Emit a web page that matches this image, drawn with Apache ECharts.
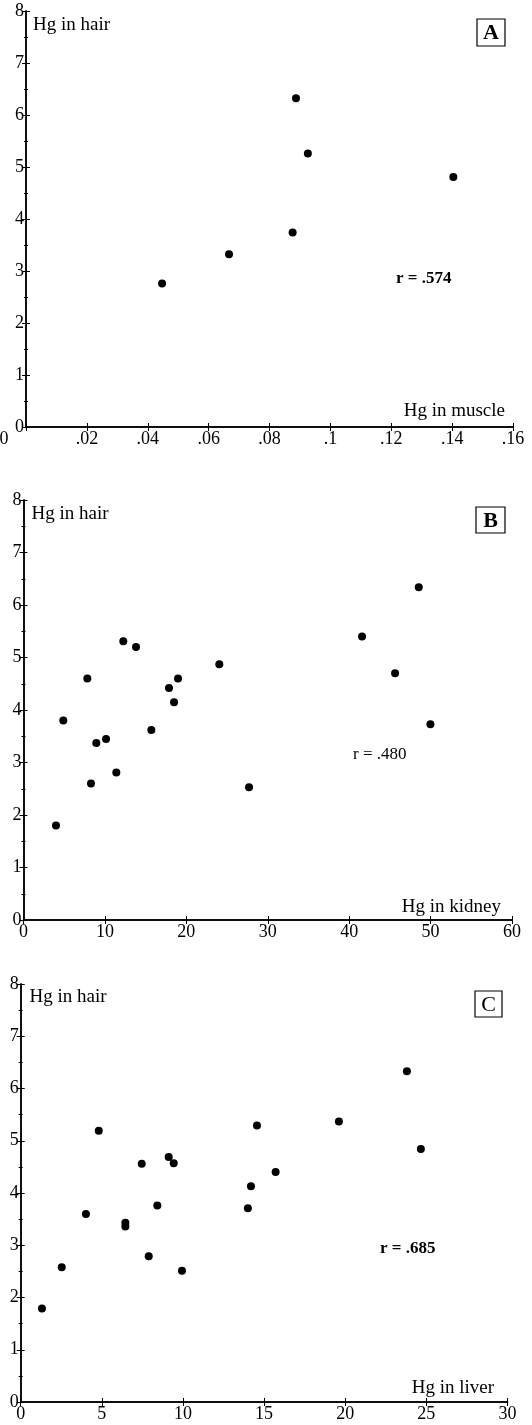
<!DOCTYPE html>
<html>
<head>
<meta charset="utf-8">
<script src="https://cdn.jsdelivr.net/npm/echarts@6/dist/echarts.min.js"></script>
<style>
html,body{margin:0;padding:0;background:#fff;}
#c{width:532px;height:1425px;}
</style>
</head>
<body>
<div id="c"></div>
<script>
// Panel A: Hg in muscle vs Hg in hair
const muscleHg = [0.0887, 0.0926, 0.1404, 0.0876, 0.0667, 0.0447];
const hairA    = [6.32,   5.26,   4.81,   3.74,   3.32,   2.76];
// Panel B: Hg in kidney vs Hg in hair
const kidneyHg = [48.55, 12.26, 13.82, 41.58, 24.05, 7.84, 18.98, 17.87, 45.64, 18.49, 4.89, 49.98, 15.70, 10.14, 8.94, 11.40, 8.29, 27.70, 3.99];
const hairB    = [6.34,  5.31,  5.20,  5.40,  4.87,  4.60, 4.60,  4.42,  4.70,  4.15,  3.80, 3.73,  3.62,  3.45,  3.37, 2.81,  2.60, 2.53,  1.80];
// Panel C: Hg in liver vs Hg in hair
const liverHg = [23.80, 19.61, 14.56, 4.81, 24.66, 7.46, 9.12, 9.43, 15.71, 14.19, 8.42, 14.00, 4.02, 6.45, 6.45, 7.89, 9.94, 2.53, 1.31];
const hairC   = [6.33,  5.37,  5.29,  5.19, 4.84,  4.56, 4.69, 4.57, 4.40,  4.13,  3.76, 3.71,  3.60, 3.43, 3.36, 2.79, 2.51, 2.58, 1.79];

const xTicksA = [0, 0.02, 0.04, 0.06, 0.08, 0.1, 0.12, 0.14, 0.16];
const xTicksB = [0, 10, 20, 30, 40, 50, 60];
const xTicksC = [0, 5, 10, 15, 20, 25, 30];
const yTicks = [0, 1, 2, 3, 4, 5, 6, 7, 8];

const panelLetters = ['A', 'B', 'C'];
const xNames = ['Hg in muscle', 'Hg in kidney', 'Hg in liver'];
const yName = 'Hg in hair';
const rTexts = ['r = .574', 'r = .480', 'r = .685'];

const FONT = '"Liberation Serif", "DejaVu Serif", serif';
const chart = echarts.init(document.getElementById('c'), null, {renderer: 'canvas'});

const grids = [
  {left: 26, top: 11, width: 487, height: 416},
  {left: 23.5, top: 500, width: 488.5, height: 420},
  {left: 20.7, top: 984, width: 486.8, height: 418}
];

const xDefs = [
  {min: xTicksA[0], max: xTicksA[xTicksA.length - 1], interval: xTicksA[1] - xTicksA[0],
   fmt: v => { if (Math.abs(v) < 1e-9) return '{s|0}'; return String(+v.toFixed(2)).replace(/^0/, ''); }},
  {min: xTicksB[0], max: xTicksB[xTicksB.length - 1], interval: xTicksB[1] - xTicksB[0], fmt: v => String(v)},
  {min: xTicksC[0], max: xTicksC[xTicksC.length - 1], interval: xTicksC[1] - xTicksC[0], fmt: v => String(v)}
];

const axisLine = {show: true, lineStyle: {color: '#000', width: 1.5}};
const tick = {show: true, inside: true, length: 4, lineStyle: {color: '#000', width: 1}};
const minor = {show: true, splitNumber: 2, length: 2, lineStyle: {color: '#000', width: 1}};
const LBL = 18;

const xAxis = [], yAxis = [], series = [];
const xs = [muscleHg, kidneyHg, liverHg];
const ys = [hairA, hairB, hairC];

for (let i = 0; i < 3; i++) {
  const d = xDefs[i];
  xAxis.push({
    type: 'value', gridIndex: i, position: 'bottom', min: d.min, max: d.max, interval: d.interval,
    axisLine, axisTick: tick, minorTick: {show: false}, splitLine: {show: false},
    axisLabel: {show: true, color: '#000', fontFamily: FONT, fontSize: LBL, margin: 3,
      formatter: d.fmt, rich: {s: {fontFamily: FONT, fontSize: LBL, color: '#000', padding: [0, 44, 0, 0]}}}
  });
  xAxis.push({
    type: 'value', gridIndex: i, position: 'top', min: d.min, max: d.max, interval: d.interval,
    axisLine, axisTick: tick, splitLine: {show: false}, axisLabel: {show: false}
  });
  yAxis.push({
    type: 'value', gridIndex: i, position: 'left', min: yTicks[0], max: yTicks[yTicks.length - 1], interval: 1,
    axisLine, axisTick: tick, minorTick: minor, splitLine: {show: false},
    axisLabel: {show: true, color: '#000', fontFamily: FONT, fontSize: LBL, margin: 2}
  });
  yAxis.push({
    type: 'value', gridIndex: i, position: 'right', min: yTicks[0], max: yTicks[yTicks.length - 1], interval: 1,
    axisLine, axisTick: tick, minorTick: minor, splitLine: {show: false}, axisLabel: {show: false}
  });
  series.push({
    type: 'scatter', xAxisIndex: 2 * i, yAxisIndex: 2 * i, symbol: 'circle', symbolSize: 8,
    itemStyle: {color: '#000', opacity: 1}, silent: true, animation: false,
    data: xs[i].map((x, k) => [x, ys[i][k]])
  });
}

// annotation positions (text labels & letter boxes)
const ann = [
  {yx: 33, yy: 25, xr: 505, xy: 411, rx: 396, ry: 279, bx: 477, by: 19, bw: 28, bh: 27, bold: 'bold'},
  {yx: 31.5, yy: 514, xr: 501, xy: 907, rx: 353, ry: 754.5, bx: 476, by: 507, bw: 29, bh: 26, bold: 'bold'},
  {yx: 29.5, yy: 997, xr: 494, xy: 1388, rx: 380, ry: 1249, bx: 475, by: 991, bw: 27, bh: 26, bold: 'normal'}
];
const graphic = [];
for (let i = 0; i < 3; i++) {
  const a = ann[i];
  graphic.push({type: 'text', left: a.yx, top: a.yy - 9, style: {text: yName, font: '19px ' + FONT, fill: '#000'}});
  graphic.push({type: 'text', x: a.xr, y: a.xy, style: {text: xNames[i], font: '19px ' + FONT, fill: '#000', textAlign: 'right', textVerticalAlign: 'middle'}});
  graphic.push({type: 'text', x: a.rx, y: a.ry, style: {text: rTexts[i], font: (i === 1 ? '' : 'bold ') + '17px ' + FONT, fill: '#000', textAlign: 'left', textVerticalAlign: 'middle'}});
  graphic.push({type: 'rect', shape: {x: a.bx, y: a.by, width: a.bw, height: a.bh}, style: {fill: '#fff', stroke: '#000', lineWidth: 1.2}});
  graphic.push({type: 'text', x: a.bx + a.bw / 2, y: a.by + a.bh / 2 + 1, style: {text: panelLetters[i], font: a.bold + ' 22px ' + FONT, fill: '#000', textAlign: 'center', textVerticalAlign: 'middle'}});
}

chart.setOption({
  backgroundColor: '#fff',
  animation: false,
  grid: grids.map(g => Object.assign({containLabel: false, outerBoundsMode: 'none'}, g)),
  xAxis, yAxis, series, graphic
});
</script>
</body>
</html>
